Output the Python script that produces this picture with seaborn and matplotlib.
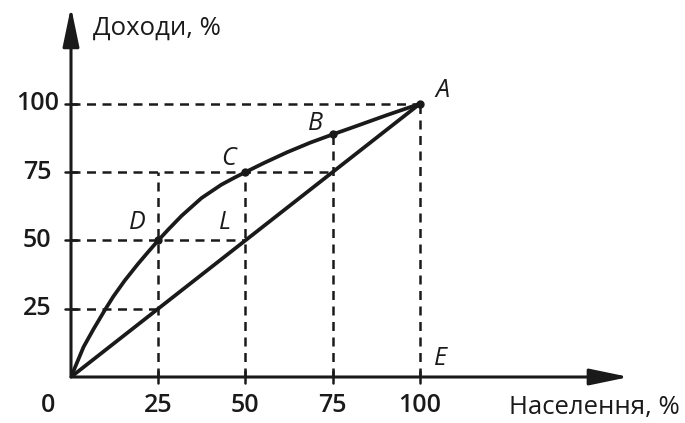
import numpy as np
import pandas as pd
import seaborn as sns
import matplotlib.pyplot as plt

# points
pop = [0, 3.6, 6.4, 9.7, 12.1, 15.4, 19.2, 22, 25, 27.9, 31.7, 37.4,
       43.1, 46.9, 50, 55.4, 62, 68.6, 75, 81, 90.4, 100]
income = [0, 11, 17.4, 24.5, 29.4, 35.3, 41.4, 45.6, 50, 54, 59, 65.5,
          70.4, 73, 75, 78.4, 82.3, 85.8, 88.8, 91.5, 95.8, 100]
equal_line = [0, 100]
tick_vals = [25, 50, 75, 100]
dots_x = [0, 25, 50, 75, 100]
dots_y = [0, 50, 75, 88.8, 100]
letters = ["A", "B", "C", "D", "L", "E"]
letter_xy = [(106.6, 104.8), (70.2, 92.7), (45.3, 79.9), (18.9, 56.4),
             (44.1, 56.4), (106, 6.6)]

sns.set_style("white")
plt.rcParams["font.family"] = ["Open Sans", "DejaVu Sans"]
ink = "#1a1a1a"

fig = plt.figure(figsize=(6.85, 4.23), dpi=100)
ax = fig.add_axes([71 / 685, 46 / 423, 558 / 685, 366 / 423])
ax.set_xlim(0, 160)
ax.set_ylim(0, 134)
for s in ax.spines.values():
    s.set_visible(False)
ax.set_xticks([])
ax.set_yticks([])
ax.patch.set_alpha(0)

lorenz = pd.DataFrame({"pop": pop, "income": income})
sns.lineplot(data=lorenz, x="pop", y="income", color=ink, lw=2.7, ax=ax,
             sort=False)
sns.lineplot(x=equal_line, y=equal_line, color=ink, lw=2.7, ax=ax)
ax.plot(dots_x, dots_y, "o", color=ink, ms=5, zorder=5)

# dashed guides
dash = dict(color=ink, lw=1.8, ls=(0, (3.6, 2.6)))
ax.plot([0, 100], [100, 100], **dash)
ax.plot([0, 75], [75, 75], **dash)
ax.plot([0, 50], [50, 50], **dash)
ax.plot([0, 25], [25, 25], **dash)
ax.plot([25, 25], [0, 75], **dash)
ax.plot([50, 50], [0, 75], **dash)
ax.plot([75, 75], [0, 88.8], **dash)
ax.plot([100, 100], [0, 100], **dash)

# axes with arrows
arrow = dict(arrowstyle="-|>,head_length=2.4,head_width=0.5", color=ink,
             lw=2.2, shrinkA=0, shrinkB=0)
ax.annotate("", xy=(160, 0), xytext=(0, 0), arrowprops=arrow, annotation_clip=False)
ax.annotate("", xy=(0, 135.5), xytext=(0, 0), arrowprops=arrow, annotation_clip=False)

# tick marks and labels
for v in tick_vals:
    ax.plot([v, v], [-2.2, 2.2], color=ink, lw=1.8, clip_on=False)
    ax.plot([-1.8, 1.8], [v, v], color=ink, lw=1.8, clip_on=False)
    ax.text(v, -10.3, str(v), ha="center", va="center", fontsize=18,
            fontweight="semibold", color=ink)
    ax.text(-9.7, v, str(v), ha="center", va="center", fontsize=18,
            fontweight="semibold", color=ink)
ax.text(-6.6, -10.3, "0", ha="center", va="center", fontsize=18,
        fontweight="semibold", color=ink)

for lab, (x, y) in zip(letters, letter_xy):
    ax.text(x, y, lab, ha="center", va="center", fontsize=18, style="italic",
            color=ink)

ax.text(6.3, 127.8, "Доходи, %", ha="left", va="center", fontsize=18.5, color=ink)
ax.text(174.5, -11, "Населення, %", ha="right", va="center", fontsize=18.5,
        color=ink)

fig.savefig("out.png", dpi=100)
